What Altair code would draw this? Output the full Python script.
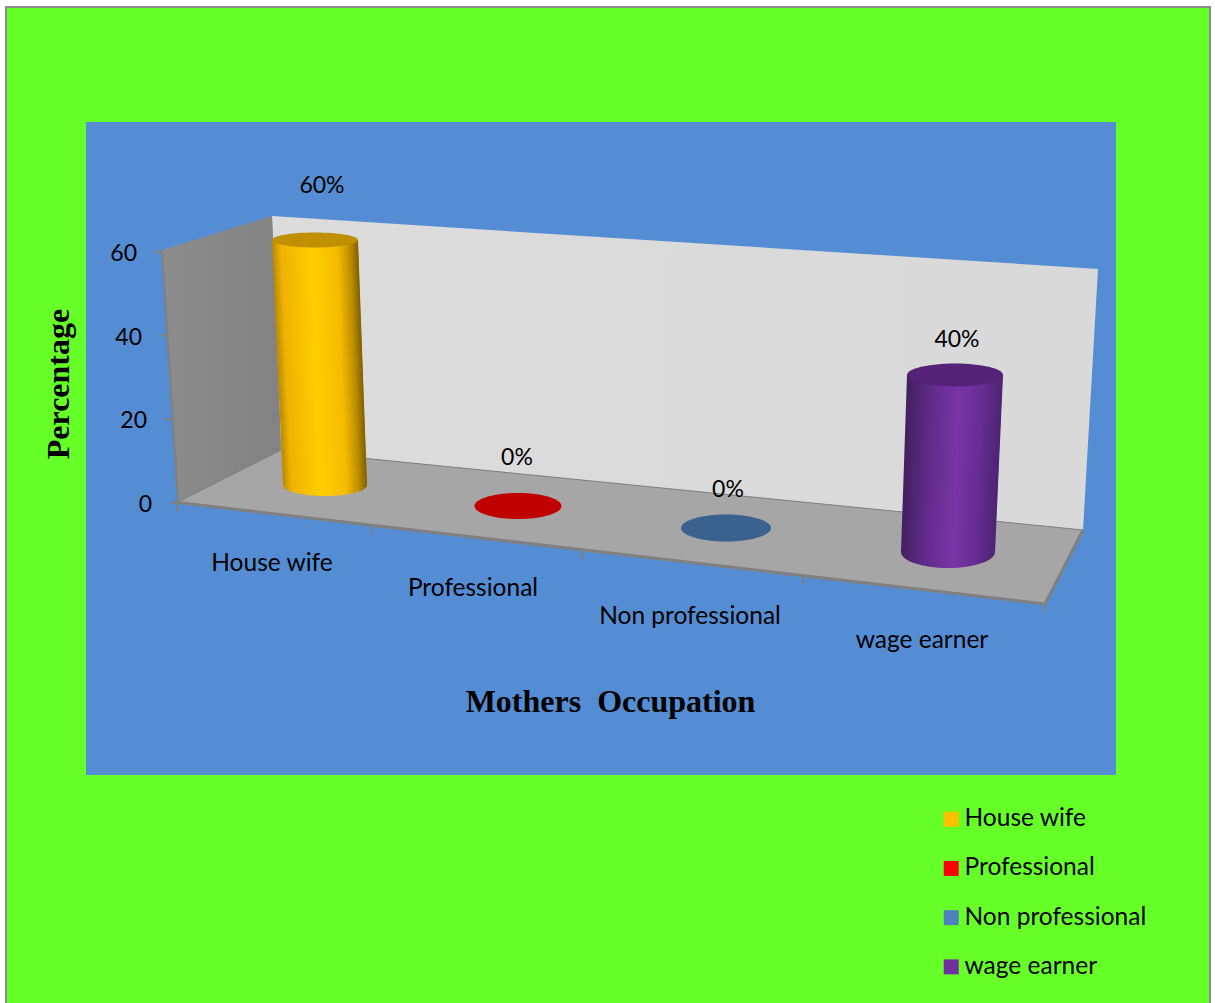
import altair as alt
import pandas as pd

# Chart content
categories = ["House wife", "Professional", "Non professional", "wage earner"]
values = [60, 0, 0, 40]
y_ticks = [0, 20, 40, 60]

# Colours per occupation
legend_colors = ["#FFC000", "#FF0000", "#4F81BD", "#7030A0"]
cap_colors = ["#C09000", "#C00000", "#3B618F", "#542377"]
body_stops = [
    [(0, "#B98A00"), (0.1, "#EFB200"), (0.45, "#FFCE00"), (0.75, "#F6BC00"), (0.9, "#BE8F00"), (1, "#7F6000")],
    None,
    None,
    [(0, "#43205F"), (0.25, "#5F2B88"), (0.55, "#7A35A8"), (0.8, "#642D90"), (1, "#4E2373")],
]

# Perspective layout of each cylinder, in canvas pixels
base_x = [325, 518, 726, 948]
base_y = [485, 506, 528, 552]
base_rx = [42, 43.5, 45, 47]
base_ry = [11, 13, 13.5, 16]
top_rx = [43, 43.5, 45, 48]
top_ry = [7.5, 13, 13.5, 11.5]
px_per_value = [4.083, 4.2, 4.3, 4.425]
lean_per_value = [-0.167, 0, 0, 0.175]

label_pos = [(322, 185), (517, 457), (728, 489), (957, 339)]
cat_label_pos = [(272, 563), (473, 588), (690, 616), (922, 640)]

W, H = 1215, 1003
Y0_PX, PX_UNIT = 502.7, 4.18
LABEL_FONT = "Lato"
LABEL_SIZE = 24.5
NUMBER_SIZE = 23
TITLE_FONT = "Liberation Serif"
SHADE_STEPS = 48


def units(py):
    """Canvas row to value units on the y scale."""
    return (Y0_PX - py) / PX_UNIT


x_scale = alt.Scale(domain=[0, W], range=[0, W], nice=False, zero=False)
y_scale = alt.Scale(domain=[units(H), units(0)], range=[H, 0], nice=False, zero=False)


def X(f):
    return alt.X(f, type="quantitative", scale=x_scale, axis=None)


def Y(f):
    return alt.Y(f, type="quantitative", scale=y_scale, axis=None)


def gradient(stops):
    return alt.LinearGradient(
        gradient="linear", x1=0, x2=1, y1=0, y2=0,
        stops=[alt.GradientStop(offset=o, color=c) for o, c in stops],
    )


def shade(stops, t):
    """Colour of a horizontal shading ramp at position t."""
    for (o0, c0), (o1, c1) in zip(stops, stops[1:]):
        if t <= o1:
            f = (t - o0) / (o1 - o0)
            a = [int(c0[j:j + 2], 16) for j in (1, 3, 5)]
            b = [int(c1[j:j + 2], 16) for j in (1, 3, 5)]
            return "#%02X%02X%02X" % tuple(round(p + (q - p) * f) for p, q in zip(a, b))
    return stops[-1][1]


def ellipse_path(ratio):
    k = 0.5523
    r = ratio
    return (
        f"M-1,0C-1,{-k*r} {-k},{-r} 0,{-r}C{k},{-r} 1,{-k*r} 1,0"
        f"C1,{k*r} {k},{r} 0,{r}C{-k},{r} -1,{k*r} -1,0Z"
    )


one = pd.DataFrame({"n": [0]})


def panel(x0, x1, y0, y1, **mark):
    return alt.Chart(one).mark_rect(**mark).encode(
        x=alt.value(x0), x2=alt.value(x1), y=alt.value(y0), y2=alt.value(y1)
    )


layers = [
    panel(0, W, 0, H, fill="#FFFFFF"),
    panel(5, 1211, 6, H, fill="#8C8C8C"),
    panel(7, 1209, 8, H, fill="#66FF28"),
    panel(86, 1116, 122, 775, fill="#548DD4"),
]

# Walls and floor of the 3D box
walls = [
    ([(272, 216), (1098, 269), (1083, 530), (281, 450)], gradient([(0, "#DCDCDC"), (1, "#D9D9D9")])),
    ([(162, 250), (272, 216), (281, 450), (178, 502)], gradient([(0, "#8C8C8C"), (1, "#828282")])),
    ([(178, 502), (281, 450), (1083, 530), (1045, 604)], "#A6A6A6"),
]
for corners, fill in walls:
    ring = [list(c) for c in corners] + [list(corners[0])]
    feature = {"type": "Feature", "properties": {}, "geometry": {"type": "Polygon", "coordinates": [ring]}}
    layers.append(
        alt.Chart(alt.Data(values=[feature])).mark_geoshape(fill=fill, stroke=None, strokeWidth=0).project(
            type="identity", scale=1, translate=[0, 0]
        )
    )

# Box edges
edges = pd.DataFrame(
    [
        (178, 502.5, 1045, 604, 3),
        (1045, 604, 1083, 530, 3),
        (281, 450, 1083, 530, 1),
        (162, 250, 178, 502.5, 2),
        (178, 502, 281, 450, 1),
    ],
    columns=["px0", "py0", "px1", "py1", "w"],
)
edges["u0"], edges["u1"] = units(edges.py0), units(edges.py1)
for w, grp in edges.groupby("w"):
    layers.append(
        alt.Chart(grp).mark_rule(color="#808080", strokeWidth=float(w)).encode(
            x=X("px0"), x2="px1", y=Y("u0"), y2="u1"
        )
    )

# Axis ticks
tick_df = pd.DataFrame({"v": y_ticks})
tick_df["px1"] = 178 - tick_df.v / 60 * 16
tick_df["px0"] = tick_df.px1 - 8
tick_df["lx"] = 152 - tick_df.v / 60 * 15
layers.append(
    alt.Chart(tick_df).mark_rule(color="#808080", strokeWidth=2).encode(x=X("px0"), x2="px1", y=Y("v"))
)
x_ticks = [(177, 502, 512), (372, 525, 534), (582, 552, 560), (803, 575, 584), (1045, 603, 612)]
xt = pd.DataFrame(x_ticks, columns=["px", "a", "b"])
xt["ua"], xt["ub"] = units(xt.a), units(xt.b)
layers.append(
    alt.Chart(xt).mark_rule(color="#808080", strokeWidth=2).encode(x=X("px"), y=Y("ua"), y2="ub")
)

# Cylinders: base ellipse, shaded body, then the cap sitting at the value's height
for i, cat in enumerate(categories):
    v = values[i]
    top_px = base_y[i] - v * px_per_value[i]
    top_cx = base_x[i] + v * lean_per_value[i]
    if v > 0:
        stops = body_stops[i]
        base = pd.DataFrame({"px": [base_x[i]], "u": [units(base_y[i])]})
        layers.append(
            alt.Chart(base).mark_point(
                shape=ellipse_path(base_ry[i] / base_rx[i]), size=(2 * base_rx[i]) ** 2,
                fill=gradient(stops), filled=True, opacity=1, strokeWidth=0,
            ).encode(x=X("px"), y=Y("u"))
        )
        # The body is split into lengthwise strips so the shading leans with the cylinder;
        # each strip runs under its right neighbour to hide antialiasing seams
        rows = []
        for s in range(SHADE_STEPS):
            t0, t1 = s / SHADE_STEPS, (s + 1) / SHADE_STEPS
            overlap = 1.5 if s < SHADE_STEPS - 1 else 0
            colour = shade(stops, (t0 + t1) / 2)
            rows.append({"strip": s, "c": colour, "u": units(top_px),
                         "l": top_cx - top_rx[i] + 2 * top_rx[i] * t0,
                         "r": top_cx - top_rx[i] + 2 * top_rx[i] * t1 + overlap})
            rows.append({"strip": s, "c": colour, "u": units(base_y[i]),
                         "l": base_x[i] - base_rx[i] + 2 * base_rx[i] * t0,
                         "r": base_x[i] - base_rx[i] + 2 * base_rx[i] * t1 + overlap})
        layers.append(
            alt.Chart(pd.DataFrame(rows)).mark_area(orient="horizontal", opacity=1).encode(
                y=Y("u"), x=X("l"), x2="r", detail="strip:N",
                fill=alt.Fill("c:N", scale=None, legend=None),
                order=alt.Order("strip:Q"),
            )
        )
    cap = pd.DataFrame({"px": [top_cx], "u": [units(top_px)]})
    layers.append(
        alt.Chart(cap).mark_point(
            shape=ellipse_path(top_ry[i] / top_rx[i]), size=(2 * top_rx[i]) ** 2,
            fill=cap_colors[i], filled=True, opacity=1, strokeWidth=0,
        ).encode(x=X("px"), y=Y("u"))
    )

# Text
text_style = dict(font=LABEL_FONT, fontSize=LABEL_SIZE, color="#000000")
number_style = dict(font=LABEL_FONT, fontSize=NUMBER_SIZE, color="#000000")
value_df = pd.DataFrame(
    {
        "label": [f"{v}%" for v in values],
        "px": [p[0] for p in label_pos],
        "u": [units(p[1]) for p in label_pos],
    }
)
layers.append(alt.Chart(value_df).mark_text(align="center", baseline="middle", dy=1, **number_style).encode(
    x=X("px"), y=Y("u"), text="label:N"))
cat_df = pd.DataFrame(
    {
        "label": categories,
        "px": [p[0] for p in cat_label_pos],
        "u": [units(p[1]) for p in cat_label_pos],
    }
)
layers.append(alt.Chart(cat_df).mark_text(align="center", baseline="middle", dy=1, **text_style).encode(
    x=X("px"), y=Y("u"), text="label:N"))
layers.append(alt.Chart(tick_df).mark_text(align="right", baseline="middle", dy=2, **number_style).encode(
    x=X("lx"), y=Y("v"), text=alt.Text("v:Q")))

title_df = pd.DataFrame(
    {"label": ["Mothers \u00a0Occupation"], "px": [610.5], "u": [units(702)]}
)
layers.append(alt.Chart(title_df).mark_text(
    align="center", baseline="middle", font=TITLE_FONT, fontWeight="bold", fontSize=32, color="#000000"
).encode(x=X("px"), y=Y("u"), text="label:N"))
ytitle_df = pd.DataFrame({"label": ["Percentage"], "px": [59], "u": [units(384)]})
layers.append(alt.Chart(ytitle_df).mark_text(
    align="center", baseline="middle", angle=270, font=TITLE_FONT, fontWeight="bold", fontSize=32, color="#000000"
).encode(x=X("px"), y=Y("u"), text="label:N"))

# Legend
legend_df = pd.DataFrame({"cat": categories, "px": [0] * 4, "u": [0] * 4})
layers.append(
    alt.Chart(legend_df).mark_square(size=0, opacity=1).encode(
        x=X("px"),
        y=Y("u"),
        color=alt.Color(
            "cat:N",
            scale=alt.Scale(domain=categories, range=legend_colors),
            legend=alt.Legend(
                orient="none", legendX=939, legendY=807, title=None,
                symbolType="square", symbolSize=225, symbolStrokeWidth=0, symbolOpacity=1,
                labelFont=LABEL_FONT, labelFontSize=LABEL_SIZE, labelColor="#000000",
                labelOffset=1, rowPadding=24.2, labelLimit=300,
            ),
        ),
    )
)

chart = (
    alt.layer(*layers)
    .properties(width=W, height=H, padding=0, background="#FFFFFF")
    .configure_view(stroke=None)
)
chart = chart.properties(autosize=alt.AutoSizeParams(type="none"))
chart.save("out.html", embed_options={"renderer": "svg", "actions": False})
